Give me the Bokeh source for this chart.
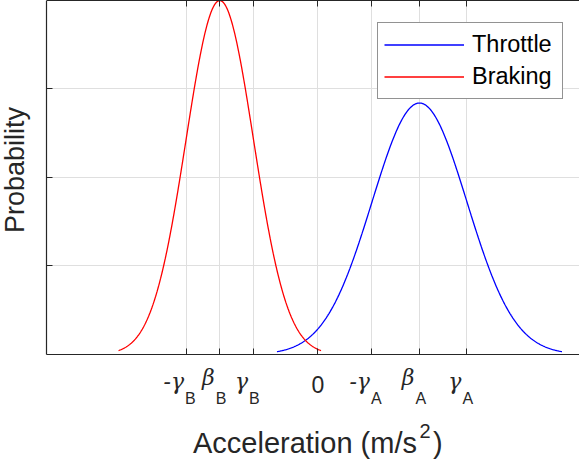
import numpy as np
from bokeh.plotting import figure
from bokeh.models import (Range1d, FixedTicker, LinearAxis, CustomJSTickFormatter,
                          Label, Legend, LegendItem, Grid)
from bokeh.embed import file_html
from bokeh.resources import INLINE

# ---- data ----
series_names = ["Throttle", "Braking"]
series_colors = ["#0000ff", "#ff0000"]
means = [2.0, -1.935]        # beta_A, beta_B  (m/s^2)
sigmas = [0.936, 0.665]      # gamma_A, gamma_B
span_sigmas = 3.0            # each curve drawn over mean +/- 3 sigma

x_tick_values = [-2.600, -1.935, -1.270, 0.0, 1.064, 2.000, 2.936]
x_tick_main = ["-γ", "β", "γ", "0", "-γ", "β", "γ"]
x_tick_sub = ["B", "B", "B", "", "A", "A", "A"]
y_tick_values = [0.15, 0.30, 0.45]
x_left, x_right = -5.35, 5.153
y_top = 0.6
x_title = "Acceleration (m/s"
x_title_sup = "2"
y_title = "Probability"

# ---- layout / style ----
AX = "#262626"
GRID = "#dfdfdf"
SANS = "Liberation Sans"
PAD_L = -6.256   # frame extends left of the y axis (room for the y title)
Y_LO = -0.1814   # frame extends below y=0 (room for the tick labels and x title)
BL = 0.26        # baseline correction (fraction of font size)

p = figure(width=579, height=461, x_range=Range1d(PAD_L, x_right), y_range=Range1d(Y_LO, y_top),
           output_backend="svg", toolbar_location=None,
           min_border_left=0, min_border_right=0, min_border_top=0, min_border_bottom=0,
           outline_line_color=None, background_fill_color="white", border_fill_color="white")

xt = FixedTicker(ticks=x_tick_values)
yt = FixedTicker(ticks=y_tick_values)
p.xgrid.ticker = xt
p.ygrid.ticker = yt
p.xgrid.grid_line_color = GRID
p.ygrid.grid_line_color = GRID
if "cross_bounds" in Grid.properties():
    p.xgrid.cross_bounds = (0, y_top)
    p.ygrid.cross_bounds = (x_left, x_right)
else:
    p.xgrid.visible = False
    p.ygrid.visible = False
    n, m = len(x_tick_values), len(y_tick_values)
    p.segment(x0=x_tick_values, y0=[0] * n, x1=x_tick_values, y1=[y_top] * n,
              line_color=GRID, line_width=1)
    p.segment(x0=[x_left] * m, y0=y_tick_values, x1=[x_right] * m, y1=y_tick_values,
              line_color=GRID, line_width=1)

renderers = []
for name, col, mu, sd in zip(series_names, series_colors, means, sigmas):
    xs = np.linspace(mu - span_sigmas * sd, mu + span_sigmas * sd, 400)
    ys = np.exp(-0.5 * ((xs - mu) / sd) ** 2) / (sd * np.sqrt(2 * np.pi))
    r = p.line(xs, ys, line_color=col, line_width=1.3)
    renderers.append((name, r))

xa = p.xaxis[0]
xa.ticker = xt
xa.fixed_location = 0
xa.bounds = (x_left, x_right)
xa.formatter = CustomJSTickFormatter(code="return Math.abs(tick) < 1e-9 ? '0' : '';")
ya = p.yaxis[0]
ya.ticker = yt
ya.fixed_location = x_left
ya.bounds = (0, y_top)
ya.formatter = CustomJSTickFormatter(code="return '';")

top = LinearAxis(ticker=xt, formatter=CustomJSTickFormatter(code="return '';"),
                 bounds=(x_left, x_right))
p.add_layout(top, "above")

for ax in (xa, ya, top):
    ax.major_tick_in = 6
    ax.major_tick_out = 0
    ax.minor_tick_in = 0
    ax.minor_tick_out = 0
    ax.axis_line_color = AX
    ax.major_tick_line_color = AX
    ax.axis_line_width = 1.2
    ax.major_label_text_font = SANS
    ax.major_label_text_color = AX

xa.major_label_text_font_size = "23px"
xa.major_label_standoff = 22
ya.major_label_text_font_size = "0px"
ya.major_label_standoff = 0
top.major_label_text_font_size = "0px"
top.major_label_standoff = 0


def txt(x, y, text, size, dx=0.0, dy=0.0, align="left", font=SANS, style="normal", angle=0):
    if angle:
        dx -= BL * size
    else:
        dy += BL * size
    p.add_layout(Label(x=x, y=y, text=text, text_align=align, text_baseline="alphabetic",
                       x_offset=dx, y_offset=dy, angle=angle, angle_units="deg",
                       text_font=font, text_font_style=style,
                       text_font_size=f"{size}px", text_color=AX))


# Greek tick labels with subscripts
main_dy = {"-γ": -32.7, "β": -28.7, "γ": -32.7}
junction = {"-γ": -2.0, "β": -5.0, "γ": -5.5}
for xv, main, sub in zip(x_tick_values, x_tick_main, x_tick_sub):
    if not sub:
        continue
    j = junction[main]
    txt(xv, 0, main, 22, dx=j, dy=main_dy[main], align="right",
        font="DejaVu Serif", style="italic")
    txt(xv, 0, sub, 16, dx=j + 1, dy=-48.5)

# axis titles
txt(0, 0, x_title, 29, dx=99, dy=-96, align="right")
txt(0, 0, x_title_sup, 20, dx=101.5, dy=-82)
txt(0, 0, ")", 29, dx=115, dy=-96)
txt(x_left, y_top / 2, y_title, 27, dx=-24.5, dy=7.5, align="center", angle=90)

legend = Legend(items=[LegendItem(label=n, renderers=[r]) for n, r in renderers],
                location=(377, 362), padding=6, spacing=1, glyph_width=80, glyph_height=31,
                label_standoff=8, label_width=84, label_text_font=SANS,
                label_text_font_size="23.5px", label_text_color="black",
                border_line_color=AX, border_line_width=1, background_fill_alpha=1,
                margin=0)
p.add_layout(legend)

open("out.html", "w").write(file_html(p, INLINE))
